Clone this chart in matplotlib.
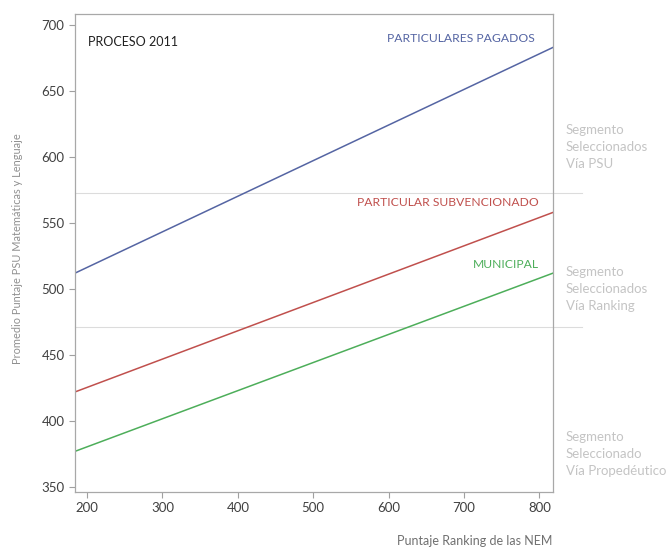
import matplotlib
matplotlib.use("Agg")
import matplotlib.pyplot as plt

plt.rcParams['font.family'] = ['Lato', 'DejaVu Sans']

# Data
x_range = [184, 818]
series_names = ["PARTICULARES PAGADOS", "PARTICULAR SUBVENCIONADO", "MUNICIPAL"]
particulares_pagados = [512, 683]
particular_subvencionado = [422, 558]
municipal = [377, 512]
series_values = [particulares_pagados, particular_subvencionado, municipal]
series_colors = ["#5565a3", "#c0504d", "#4dae5a"]
cutoffs = [573, 471]
x_ticks = [200, 300, 400, 500, 600, 700, 800]
y_ticks = [350, 400, 450, 500, 550, 600, 650, 700]
segment_labels = ["Segmento\nSeleccionados\nVía PSU",
                  "Segmento\nSeleccionados\nVía Ranking",
                  "Segmento\nSeleccionado\nVía Propedéutico"]

fig = plt.figure(figsize=(6.7, 5.48), dpi=100)
ax = fig.add_axes([75/670, 1-492/548, (553-75)/670, (492-14)/548])

for vals, col in zip(series_values, series_colors):
    ax.plot(x_range, vals, color=col, lw=1.1)

for c in cutoffs:
    ax.plot([x_range[0], 857], [c, c], color="#dcdcdc", lw=0.8, clip_on=False, zorder=0)

ax.set_xlim(x_range)
ax.set_ylim(346.2, 708.3)
ax.set_xticks(x_ticks)
ax.set_yticks(y_ticks)
ax.tick_params(colors="#a0a0a0", labelcolor="#404040", labelsize=9.5, length=4, width=0.8)
for s in ax.spines.values():
    s.set_color("#a8a8a8")
    s.set_linewidth(0.9)

ax.text(88/670, 1-42/548, "PROCESO 2011", transform=fig.transFigure, fontsize=9,
        color="#202020", va="center", ha="left")
label_y = [38, 203, 265]
label_right = [535, 539, 539]
for name, col, py, px in zip(series_names, series_colors, label_y, label_right):
    fig.text(px/670, 1-py/548, name, fontsize=8.7,
             color=col, ha="right", va="center")

seg_y = [147, 289, 454]
for lab, py in zip(segment_labels, seg_y):
    fig.text(566/670, 1-py/548, lab, fontsize=9.5, color="#c4c4c4",
             ha="left", va="center", linespacing=1.5)

fig.text(18/670, 1-249/548, "Promedio Puntaje PSU Matemáticas y Lenguaje",
         rotation=90, fontsize=7.9, color="#909090", ha="center", va="center")
fig.text(475/670, 1-541/548, "Puntaje Ranking de las NEM", fontsize=9,
         color="#707070", ha="center", va="center")

fig.savefig("out.png", dpi=100)
